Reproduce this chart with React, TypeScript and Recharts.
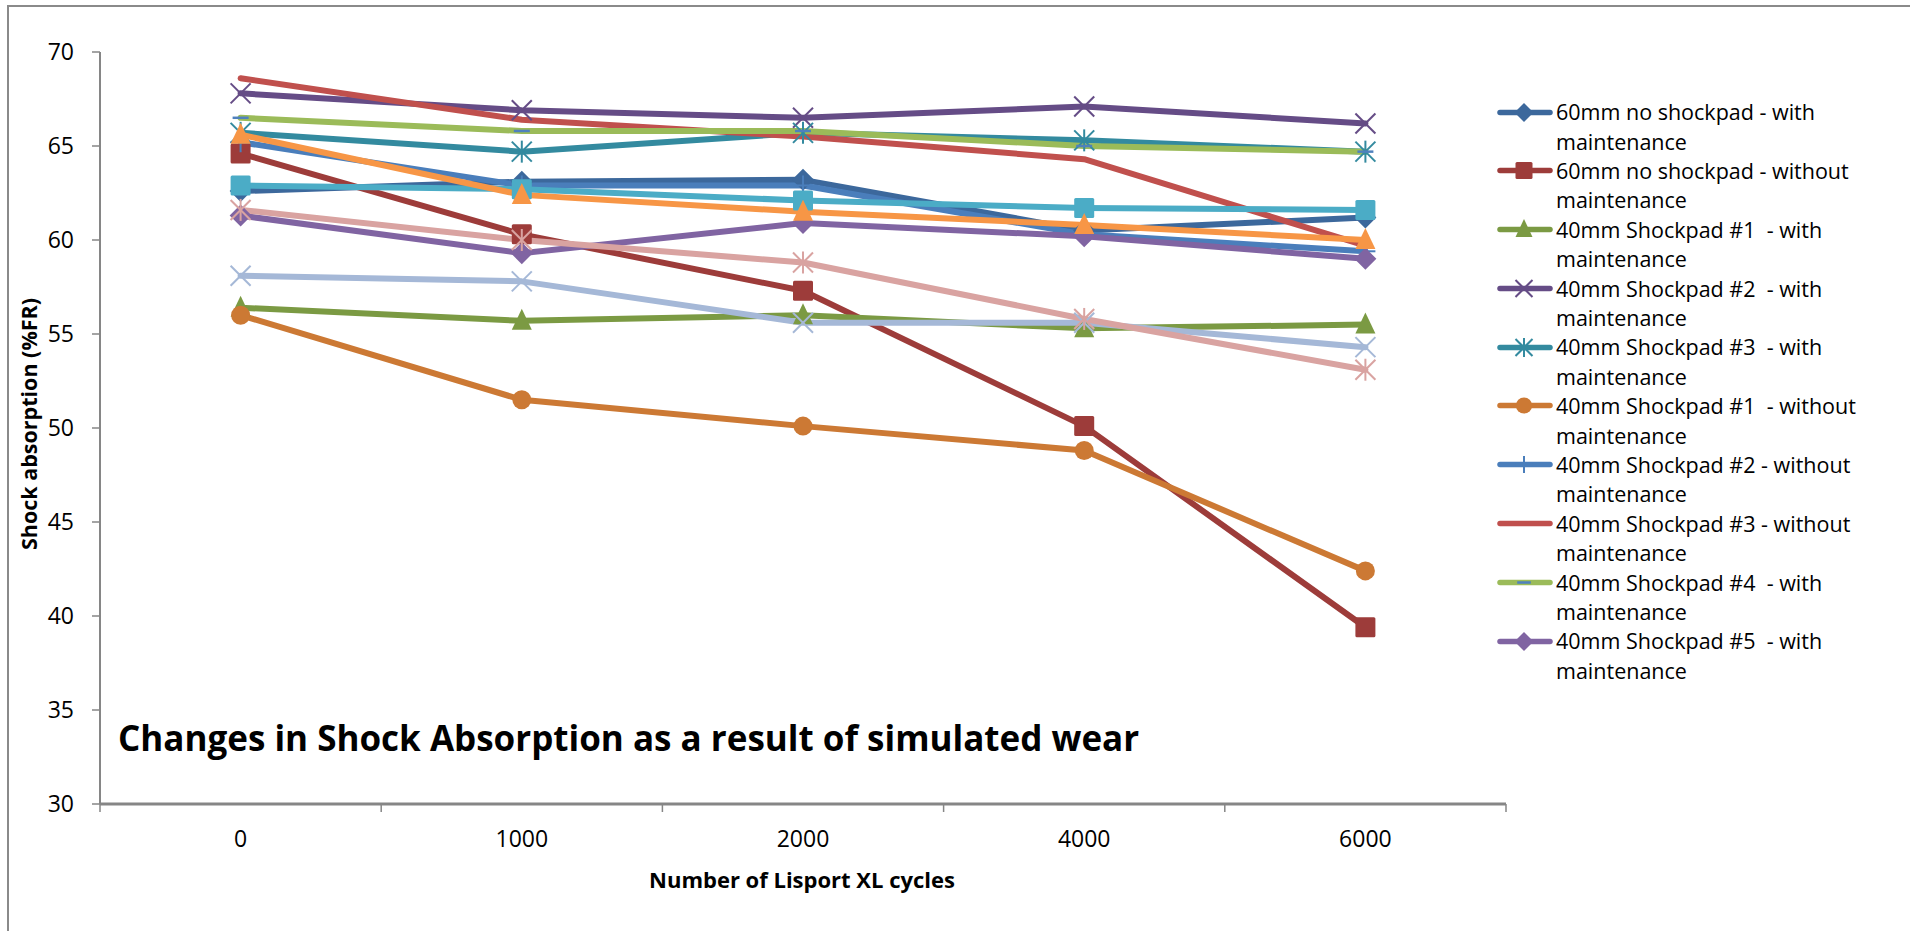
import React from "react";
import { LineChart, Line, XAxis, YAxis, Legend } from "recharts";

const AXIS_GREY = "#868686";
const FONT = "'Open Sans', 'Noto Sans', sans-serif";

// number of Lisport XL cycles (categories)
const CYCLES = ["0", "1000", "2000", "4000", "6000"];
const Y_TICKS = [30, 35, 40, 45, 50, 55, 60, 65, 70];

// shock absorption (%FR) per sample
const NO_PAD_60_WITH = [62.6, 63.1, 63.2, 60.5, 61.2];
const NO_PAD_60_WITHOUT = [64.6, 60.3, 57.3, 50.1, 39.4];
const PAD1_WITH = [56.4, 55.7, 56.0, 55.3, 55.5];
const PAD2_WITH = [67.8, 66.9, 66.5, 67.1, 66.2];
const PAD3_WITH = [65.7, 64.7, 65.7, 65.3, 64.7];
const PAD1_WITHOUT = [56.0, 51.5, 50.1, 48.8, 42.4];
const PAD2_WITHOUT = [65.2, 62.9, 62.9, 60.3, 59.4];
const PAD3_WITHOUT = [68.6, 66.4, 65.5, 64.3, 59.7];
const PAD4_WITH = [66.5, 65.8, 65.8, 65.0, 64.7];
const PAD5_WITH = [61.3, 59.3, 60.9, 60.2, 59.0];
// extra runs plotted without a legend entry
const RUN_11 = [62.9, 62.7, 62.1, 61.7, 61.6];
const RUN_12 = [65.6, 62.4, 61.5, 60.8, 60.0];
const RUN_13 = [58.1, 57.8, 55.6, 55.6, 54.3];
const RUN_14 = [61.6, 60.0, 58.8, 55.8, 53.1];

type Marker =
  | "diamond"
  | "square"
  | "triangle"
  | "cross"
  | "star"
  | "circle"
  | "plus"
  | "dash"
  | "none";

interface Series {
  key: string;
  name: string;
  values: number[];
  color: string;
  marker: Marker;
  legend: boolean;
}

const SERIES: Series[] = [
  { key: "noPad60With", name: "60mm no shockpad - with maintenance", values: NO_PAD_60_WITH, color: "#3C689C", marker: "diamond", legend: true },
  { key: "noPad60Without", name: "60mm no shockpad - without maintenance", values: NO_PAD_60_WITHOUT, color: "#9D3C3A", marker: "square", legend: true },
  { key: "pad1With", name: "40mm Shockpad #1  - with maintenance", values: PAD1_WITH, color: "#7B9A43", marker: "triangle", legend: true },
  { key: "pad2With", name: "40mm Shockpad #2  - with maintenance", values: PAD2_WITH, color: "#654C86", marker: "cross", legend: true },
  { key: "pad3With", name: "40mm Shockpad #3  - with maintenance", values: PAD3_WITH, color: "#338A9F", marker: "star", legend: true },
  { key: "pad1Without", name: "40mm Shockpad #1  - without maintenance", values: PAD1_WITHOUT, color: "#CC7934", marker: "circle", legend: true },
  { key: "pad2Without", name: "40mm Shockpad #2 - without maintenance", values: PAD2_WITHOUT, color: "#4A7EBB", marker: "plus", legend: true },
  { key: "pad3Without", name: "40mm Shockpad #3 - without maintenance", values: PAD3_WITHOUT, color: "#C0504D", marker: "none", legend: true },
  { key: "pad4With", name: "40mm Shockpad #4  - with maintenance", values: PAD4_WITH, color: "#9BBB59", marker: "dash", legend: true },
  { key: "pad5With", name: "40mm Shockpad #5  - with maintenance", values: PAD5_WITH, color: "#8064A2", marker: "diamond", legend: true },
  { key: "run11", name: "Series 11", values: RUN_11, color: "#4BACC6", marker: "square", legend: false },
  { key: "run12", name: "Series 12", values: RUN_12, color: "#F79646", marker: "triangle", legend: false },
  { key: "run13", name: "Series 13", values: RUN_13, color: "#A5B8D7", marker: "cross", legend: false },
  { key: "run14", name: "Series 14", values: RUN_14, color: "#D9A3A1", marker: "star", legend: false },
];

// pos puts each category in the middle of its band on a 0..5 numeric axis
const data = CYCLES.map((c, i) => {
  const row: Record<string, number | string> = { cycles: c, pos: i + 0.5 };
  SERIES.forEach((s) => {
    row[s.key] = s.values[i];
  });
  return row;
});

const X_TICKS = [0, 0.5, 1, 1.5, 2, 2.5, 3, 3.5, 4, 4.5, 5];

function MarkerShape({ cx, cy, marker, color, scale = 1 }: any) {
  const s = 10 * scale;
  switch (marker) {
    case "diamond":
      return (
        <polygon
          points={`${cx},${cy - s - 1} ${cx + s + 1},${cy} ${cx},${cy + s + 1} ${cx - s - 1},${cy}`}
          fill={color}
        />
      );
    case "square":
      return <rect x={cx - s} y={cy - s} width={2 * s} height={2 * s} rx={1.5} fill={color} />;
    case "triangle":
      return (
        <polygon
          points={`${cx},${cy - s - 2} ${cx + s},${cy + s - 1} ${cx - s},${cy + s - 1}`}
          fill={color}
        />
      );
    case "circle":
      return <circle cx={cx} cy={cy} r={s * 0.95} fill={color} />;
    case "cross":
      return (
        <g stroke={color} strokeWidth={2}>
          <line x1={cx - s} y1={cy - s} x2={cx + s} y2={cy + s} />
          <line x1={cx - s} y1={cy + s} x2={cx + s} y2={cy - s} />
        </g>
      );
    case "star":
      return (
        <g stroke={color} strokeWidth={2}>
          <line x1={cx - s} y1={cy - s} x2={cx + s} y2={cy + s} />
          <line x1={cx - s} y1={cy + s} x2={cx + s} y2={cy - s} />
          <line x1={cx} y1={cy - s - 1} x2={cx} y2={cy + s + 1} />
        </g>
      );
    case "plus":
      return (
        <g stroke={color} strokeWidth={2}>
          <line x1={cx - s} y1={cy} x2={cx + s} y2={cy} />
          <line x1={cx} y1={cy - s} x2={cx} y2={cy + s} />
        </g>
      );
    case "dash":
      return (
        <line x1={cx - 8 * scale} y1={cy} x2={cx + 8 * scale} y2={cy} stroke="#4F81BD" strokeWidth={2.5} />
      );
    default:
      return null;
  }
}

// integer ticks are band edges (tick marks only), half ticks carry the labels
function CycleTick({ x, y, payload }: any) {
  const v = payload.value;
  if (Number.isInteger(v)) {
    return <line x1={x} x2={x} y1={y - 8} y2={y} stroke={AXIS_GREY} strokeWidth={1.5} />;
  }
  return (
    <text x={x} y={y + 35} textAnchor="middle" fontSize={23} fill="#000" fontFamily={FONT}>
      {CYCLES[Math.floor(v)]}
    </text>
  );
}

const LEGEND_ROW = 29.4;

const legendLine: React.CSSProperties = {
  position: "absolute",
  left: 59,
  height: LEGEND_ROW,
  lineHeight: `${LEGEND_ROW}px`,
  whiteSpace: "pre",
};

// legend keeps series order and skips the unnamed runs
function LegendBox() {
  return (
    <div style={{ fontFamily: FONT, fontSize: 21.5, color: "#000" }}>
      {SERIES.filter((s) => s.legend).map((s) => {
        const first = s.name.replace(/ maintenance$/, "");
        return (
          <div key={s.key} style={{ position: "relative", height: LEGEND_ROW * 2 }}>
            <svg width={58} height={33} style={{ position: "absolute", left: 0, top: 0 }}>
              <line x1={3} x2={53} y1={16.5} y2={16.5} stroke={s.color} strokeWidth={5.5} strokeLinecap="round" />
              <MarkerShape cx={27} cy={16.5} marker={s.marker} color={s.color} scale={0.85} />
            </svg>
            <div style={{ ...legendLine, top: 16.5 - LEGEND_ROW / 2 }}>{first}</div>
            <div style={{ ...legendLine, top: 16.5 + LEGEND_ROW / 2 }}>maintenance</div>
          </div>
        );
      })}
    </div>
  );
}

export default function App() {
  return (
    <div
      style={{
        position: "absolute",
        left: 0,
        top: 0,
        width: 1910,
        height: 931,
        overflow: "hidden",
        background: "#fff",
        fontFamily: FONT,
      }}
    >
      <div
        style={{
          position: "absolute",
          left: 7,
          top: 5,
          width: 2000,
          height: 2000,
          borderTop: "2px solid #8A8A8A",
          borderLeft: "2px solid #8A8A8A",
        }}
      />
      <LineChart
        width={1910}
        height={931}
        data={data}
        margin={{ top: 52, right: 404, bottom: 67, left: 40 }}
      >
        <XAxis
          type="number"
          dataKey="pos"
          domain={[0, 5]}
          ticks={X_TICKS}
          interval={0}
          height={60}
          tickLine={false}
          tickSize={8}
          tickMargin={0}
          tick={<CycleTick />}
          axisLine={{ stroke: AXIS_GREY, strokeWidth: 3 }}
        />
        <YAxis
          domain={[30, 70]}
          ticks={Y_TICKS}
          interval={0}
          width={60}
          tickSize={8}
          tickMargin={18}
          tick={{ fontSize: 23, fill: "#000", fontFamily: FONT }}
          tickLine={{ stroke: AXIS_GREY, strokeWidth: 1.5 }}
          axisLine={{ stroke: AXIS_GREY, strokeWidth: 2 }}
        />
        <Legend
          layout="vertical"
          align="center"
          verticalAlign="middle"
          wrapperStyle={{ left: 1497, top: 95.5, width: 410 }}
          content={<LegendBox />}
        />
        {SERIES.map((s) => (
          <Line
            key={s.key}
            type="linear"
            dataKey={s.key}
            name={s.name}
            stroke={s.color}
            strokeWidth={6}
            strokeLinecap="round"
            strokeLinejoin="round"
            legendType={s.legend ? "line" : "none"}
            isAnimationActive={false}
            activeDot={false}
            dot={
              s.marker === "none"
                ? false
                : (p: any) => (
                    <MarkerShape
                      key={`${s.key}-${p.index}`}
                      cx={p.cx}
                      cy={p.cy}
                      marker={s.marker}
                      color={s.color}
                    />
                  )
            }
          />
        ))}
      </LineChart>
      <svg
        width={1910}
        height={931}
        style={{ position: "absolute", left: 0, top: 0, pointerEvents: "none" }}
        fontFamily={FONT}
      >
        <text x={118} y={751} fontSize={35} fontWeight={700} fill="#000">
          Changes in Shock Absorption as a result of simulated wear
        </text>
        <text x={802} y={888} fontSize={22} fontWeight={700} textAnchor="middle" fill="#000">
          Number of Lisport XL cycles
        </text>
        <text
          transform="translate(37,424) rotate(-90)"
          fontSize={21.5}
          fontWeight={700}
          textAnchor="middle"
          fill="#000"
        >
          Shock absorption (%FR)
        </text>
      </svg>
    </div>
  );
}
